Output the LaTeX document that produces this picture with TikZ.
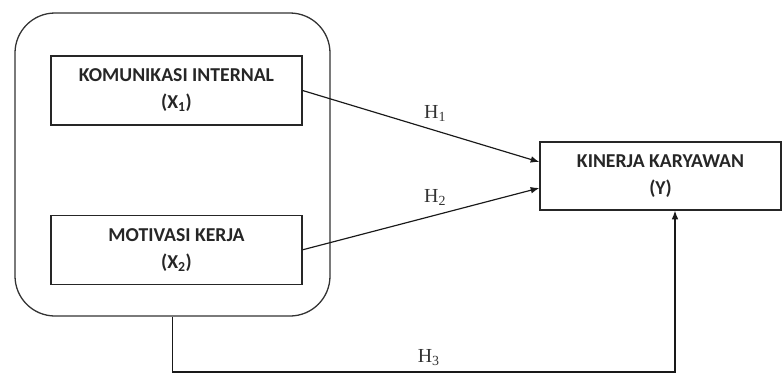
\documentclass[tikz,border=0pt]{standalone}
\usepackage{fontspec}
\setmainfont{Liberation Serif}
\setsansfont{Carlito}
\usetikzlibrary{positioning,arrows.meta}

\begin{document}
\begin{tikzpicture}[x=0.3mm,y=-0.3mm,
		group/.style={draw=black!80, line width=1.1pt, rounded corners=12mm,
		minimum width=94.5mm, minimum height=90.9mm},
		var/.style={draw=black!85, line width=1.1pt, inner sep=0pt, align=center,
		minimum width=75.3mm, minimum height=20.7mm, text=black!85,
		font=\sffamily\bfseries\fontsize{16.8}{23}\selectfont},
		hyp/.style={-{Latex[length=2.6mm,width=2mm]}, draw=black!90, line width=1pt},
		hlabel/.style={text=black!80, font=\fontsize{17}{19}\selectfont}]

		\useasboundingbox (0,0) rectangle (783,374);

		\node[group] (indep) at (172.5,164.5) {};
		\node[var] (x1) at (176.5,90.5) {KOMUNIKASI INTERNAL\\(X\textsubscript{1})};
		\node[var, below=26.7mm of x1] (x2) {MOTIVASI KERJA\\(X\textsubscript{2})};
		\node[var, minimum width=72.3mm, minimum height=20.4mm] (kin) at (660.5,176)
		{KINERJA KARYAWAN\\(Y)};

		\coordinate (h3turn) at (675,372);

		\draw[hyp] (x1.east) -- node[hlabel, above=1.5mm, pos=0.56] (h1) {H\textsubscript{1}} ([yshift=4.2mm]kin.west);
		\draw[hyp] (x2.east) -- node[hlabel, above=1.5mm, pos=0.56] (h2) {H\textsubscript{2}} ([yshift=-3.6mm]kin.west);
		\draw[hyp] (indep.south) -- (indep.south |- h3turn) -- node[hlabel, above=0.5mm, pos=0.51] (h3) {H\textsubscript{3}} (h3turn) -- (h3turn |- kin.south);
	\end{tikzpicture}
\end{document}
